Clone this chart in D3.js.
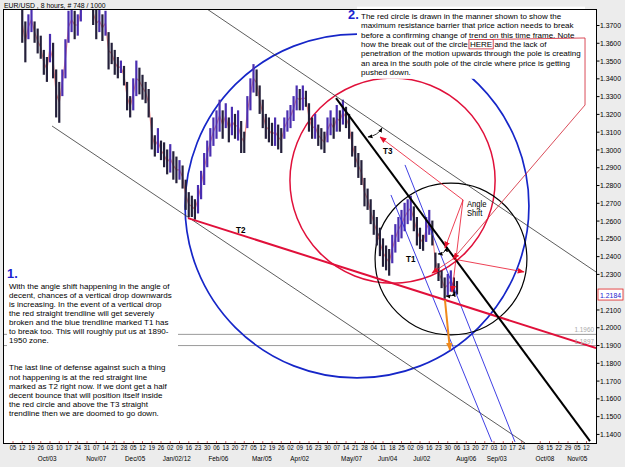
<!DOCTYPE html>
<html lang="en">
<head>
<meta charset="utf-8" />
<title>EUR/USD 8 hours</title>
<script src="https://d3js.org/d3.v7.min.js"></script>
<style>
  body { margin: 0; background: #ececec; }
  svg { font-family: "Liberation Sans", Arial, sans-serif; }
</style>
</head>
<body>
<div id="chart"></div>
<script>
// ---- data ----
// weekly tick labels (one per week, the hidden one is empty)
const weekLabels = ["05","12","19","26","03","10","17","24","31","07","14","21","28","05","12","19","26",
  "02","09","16","23","30","06","13","20","27","05","12","19","26","02","09","16","23","30","07","14","21","28",
  "04","11","18","25","02","09","16","23","30","06","13","20","27","03","10","17","24","","08","15","22","29","05","12"];
// month labels and the (fractional) week where each one is centred
const monthLabels = ["Oct/03","Nov/07","Dec/05","Jan/02/12","Feb/06","Mar/05","Apr/02","May/07","Jun/04","Jul/02","Aug/06","Sep/03","Oct/08","Nov/05"];
const monthWeeks  = [3.7, 9.0, 13.2, 17.7, 22.2, 26.9, 31.0, 36.6, 40.5, 44.2, 49.0, 52.3, 57.5, 61.0];

// price bars, three per week, starting at week 1
const priceHigh = [1.382,1.372,1.376,1.380,1.372,1.368,1.364,1.356,1.352,1.365,
  1.360,1.345,1.338,1.345,1.362,1.378,1.380,1.378,1.376,1.383,
  1.392,1.395,1.390,1.384,1.380,1.379,1.376,1.378,1.366,1.360,
  1.356,1.352,1.350,1.347,1.338,1.330,1.340,1.350,1.346,1.342,
  1.338,1.334,1.318,1.308,1.312,1.305,1.304,1.300,1.303,1.299,
  1.296,1.294,1.291,1.283,1.276,1.274,1.272,1.280,1.288,1.298,
  1.305,1.312,1.318,1.322,1.328,1.322,1.326,1.318,1.324,1.320,
  1.322,1.316,1.310,1.330,1.340,1.348,1.345,1.336,1.328,1.320,
  1.318,1.315,1.318,1.314,1.312,1.318,1.322,1.325,1.330,1.336,
  1.334,1.336,1.333,1.326,1.318,1.320,1.314,1.312,1.310,1.318,
  1.322,1.318,1.325,1.322,1.328,1.324,1.320,1.310,1.302,1.298,
  1.294,1.284,1.278,1.272,1.266,1.262,1.256,1.250,1.246,1.244,
  1.252,1.258,1.262,1.266,1.270,1.272,1.274,1.268,1.262,1.256,
  1.252,1.262,1.266,1.260,1.242,1.236,1.232,1.228,1.230,1.232,
  1.228,1.226];
const priceLow = [1.360,1.349,1.362,1.366,1.360,1.354,1.351,1.342,1.338,1.349,
  1.340,1.318,1.315,1.330,1.340,1.360,1.366,1.362,1.364,1.372,
  1.381,1.383,1.380,1.370,1.362,1.366,1.361,1.364,1.345,1.348,
  1.342,1.340,1.343,1.336,1.322,1.318,1.322,1.330,1.331,1.328,
  1.326,1.318,1.300,1.296,1.298,1.294,1.290,1.286,1.287,1.283,
  1.281,1.283,1.278,1.266,1.262,1.262,1.2605,1.264,1.272,1.280,
  1.290,1.296,1.302,1.306,1.310,1.306,1.312,1.304,1.308,1.306,
  1.305,1.298,1.298,1.312,1.322,1.332,1.330,1.320,1.312,1.306,
  1.304,1.302,1.302,1.300,1.298,1.306,1.310,1.312,1.316,1.322,
  1.322,1.322,1.324,1.310,1.306,1.306,1.302,1.300,1.298,1.304,
  1.308,1.306,1.310,1.310,1.314,1.312,1.306,1.296,1.290,1.284,
  1.280,1.268,1.266,1.258,1.252,1.246,1.240,1.234,1.232,1.229,
  1.236,1.242,1.248,1.250,1.254,1.258,1.260,1.254,1.246,1.244,
  1.243,1.248,1.252,1.246,1.232,1.226,1.222,1.216,1.218,1.220,
  1.219,1.2184];
const lastPrice = 1.2184;
const priceTicks = [1.37,1.36,1.35,1.34,1.33,1.32,1.31,1.30,1.29,1.28,1.27,1.26,1.25,1.24,1.23,
  1.21,1.20,1.19,1.18,1.17,1.16,1.15,1.14];

// horizontal levels
const levels = [1.1960, 1.1897];

// trend lines, endpoints as [week, price]
const channelUpper = [[20.97, 1.3790], [63.03, 1.2311]];
const channelLower = [[4.22, 1.3132], [55.35, 1.1349]];
const lineT2 = [[18.92, 1.2614], [63.03, 1.1883]];
const lineT3 = [[34.92, 1.3289], [62.38, 1.1360]];
const lineT1a = [[40.86, 1.2744], [51.78, 1.1355]];
const lineT1b = [[42.38, 1.2913], [54.27, 1.1355]];
const orangeArrow = [[46.70, 1.2153], [47.24, 1.1872]];

// circles: centre week, centre price, radius in price
const blueCircle = [37.19, 1.2682, 0.0967];
const redCircle = [41.03, 1.2825, 0.0577];
const blackCircle = [47.35, 1.2384, 0.0427];

// angle-shift annotation
const angleAnchor = [48.65, 1.2716];
const angleTargets = [[39.68, 1.3070], [46.70, 1.2446], [47.46, 1.2198]];
const herePath = [[61.84, 1.3627], [61.84, 1.3250], [47.57, 1.2384]];
const centreArrows = [[45.30, 1.2305], [55.24, 1.2311]];
const smallArcs = [[[38.38, 1.3070], [39.89, 1.3121]], [[45.95, 1.2412], [46.92, 1.2451]], [[46.81, 1.2176], [47.78, 1.2198]]];

const note1 = ["With the angle shift happening in the angle of",
  "decent, chances of a vertical drop downwards",
  "is increasing.  In the event of a vertical drop",
  "the red straight trendline will get severely",
  "broken and the blue trendline marked T1 has",
  "to break too.  This will roughly put us at 1890-",
  "1950 zone.", "", "",
  "The last line of defense against such a thing",
  "not happening is at the red straight line",
  "marked as T2 right now.  If we dont get a half",
  "decent bounce that will position itself inside",
  "the red circle and above the T3 straight",
  "trendline then we are doomed to go down."];
const note2 = ["The red circle is drawn in the manner shown to show the",
  "maximum resistance barrier that price action needs to break",
  "before a confirming change of trend on this time frame.  Note",
  "how the break out of the circle |HERE| and the lack of",
  "penetration of the motion upwards through the pole is creating",
  "an area in the south pole of the circle where price is getting",
  "pushed down."];

// ---- layout ----
const W = 625, H = 467;
const plot = {left: 3, top: 9, right: 596, bottom: 443};

const svg = d3.select("#chart").append("svg")
  .attr("width", W).attr("height", H);

svg.append("rect").attr("width", W).attr("height", H).attr("fill", "#ececec");
svg.append("rect")
  .attr("x", plot.left).attr("y", plot.top)
  .attr("width", plot.right - plot.left).attr("height", plot.bottom - plot.top)
  .attr("fill", "#fff");

const x = d3.scaleLinear().domain([0, 62]).range([13, 586.5]);
const y = d3.scaleLinear().domain([1.1349, 1.379]).range([plot.bottom, plot.top]);

const defs = svg.append("defs");
defs.append("clipPath").attr("id", "clip")
  .append("rect")
  .attr("x", plot.left).attr("y", plot.top)
  .attr("width", plot.right - plot.left).attr("height", plot.bottom - plot.top);

function marker(id, color, size) {
  defs.append("marker").attr("id", id)
    .attr("viewBox", "0 -5 10 10").attr("refX", 9).attr("refY", 0)
    .attr("markerWidth", size).attr("markerHeight", size)
    .attr("markerUnits", "userSpaceOnUse")
    .attr("orient", "auto-start-reverse")
    .append("path").attr("d", "M0,-4L10,0L0,4Z").attr("fill", color);
}
marker("arRed", "#e8102a", 7);
marker("arBlack", "#000", 5);
marker("arOrange", "#f08a1c", 8);

// condensed text helper (the original screenshot has narrow type)
function ctext(g, px, py, str, size, sx) {
  return g.append("text")
    .attr("transform", `translate(${px},${py}) scale(${sx},1)`)
    .attr("font-size", size)
    .text(str);
}

const g = svg.append("g").attr("clip-path", "url(#clip)");

const pt = d => [x(d[0]), y(d[1])];
const line = d3.line().x(d => x(d[0])).y(d => y(d[1]));

// horizontal levels
g.selectAll(".lvl").data(levels).join("line")
  .attr("x1", plot.left).attr("x2", plot.right)
  .attr("y1", d => y(d)).attr("y2", d => y(d))
  .attr("stroke", "#9a9a9a").attr("stroke-width", 1);

// circles
function circle(c, color, w) {
  const r = y(c[1] - c[2]) - y(c[1]);
  g.append("circle").attr("cx", x(c[0])).attr("cy", y(c[1])).attr("r", r)
    .attr("fill", "none").attr("stroke", color).attr("stroke-width", w);
}
circle(blueCircle, "#1626c8", 1.7);
circle(redCircle, "#e0103a", 1.5);
circle(blackCircle, "#000", 1.2);

// price bars
const bars = priceHigh.map((h, i) => ({w: 1 + i / 3, h: h, l: priceLow[i]}));
g.append("path")
  .datum(bars)
  .attr("d", d3.line().x(d => x(d.w)).y(d => y((d.h + d.l) / 2)))
  .attr("fill", "none").attr("stroke", "#f08a8a").attr("stroke-width", 1.2);
g.selectAll(".bar").data(bars).join("line")
  .attr("x1", d => x(d.w)).attr("x2", d => x(d.w))
  .attr("y1", d => y(d.h)).attr("y2", d => y(d.l))
  .attr("stroke", (d, i) => i > 0 && d.h + d.l >= bars[i - 1].h + bars[i - 1].l ? "#4a2eb0" : "#24203a")
  .attr("stroke-width", 2.2);

// channel and trend lines
function tline(d, color, w) {
  g.append("path").attr("d", line(d)).attr("fill", "none")
    .attr("stroke", color).attr("stroke-width", w);
}
tline(channelUpper, "#333", 0.8);
tline(channelLower, "#333", 0.8);
tline(lineT1a, "#2a2ae0", 0.9);
tline(lineT1b, "#2a2ae0", 0.9);
tline(lineT2, "#e0103a", 2);
tline(lineT3, "#000", 2);

g.append("path").attr("d", line(orangeArrow)).attr("stroke", "#f08a1c")
  .attr("stroke-width", 2).attr("marker-end", "url(#arOrange)");

// angle shift arrows
angleTargets.forEach(t => {
  g.append("path").attr("d", line([angleAnchor, t])).attr("stroke", "#e8102a")
    .attr("stroke-width", 0.8).attr("marker-end", "url(#arRed)");
});
centreArrows.forEach(t => {
  g.append("path").attr("d", line([herePath[2], t])).attr("stroke", "#e8102a")
    .attr("stroke-width", 0.8).attr("marker-end", "url(#arRed)");
});
smallArcs.forEach(a => {
  const p0 = pt(a[0]), p1 = pt(a[1]);
  g.append("path")
    .attr("d", `M${p0[0]},${p0[1]}Q${(p0[0] + p1[0]) / 2 + 3},${(p0[1] + p1[1]) / 2 + 3} ${p1[0]},${p1[1]}`)
    .attr("fill", "none").attr("stroke", "#000").attr("stroke-width", 0.8)
    .attr("marker-start", "url(#arBlack)").attr("marker-end", "url(#arBlack)");
});

// labels on the chart
ctext(g, x(lineT2[0][0]) + 48, y(lineT2[0][1]) + 15, "T2", 9, 0.9).attr("font-weight", "bold");
ctext(g, x(lineT3[0][0]) + 47, y(lineT3[0][1]) + 56, "T3", 9, 0.9).attr("font-weight", "bold");
ctext(g, x(lineT1a[0][0]) + 15, y(lineT1a[0][1]) + 67, "T1", 9, 0.9).attr("font-weight", "bold");
ctext(g, x(angleAnchor[0]) + 4, y(angleAnchor[1]) + 7, "Angle", 8.5, 0.9);
ctext(g, x(angleAnchor[0]) + 4, y(angleAnchor[1]) + 16, "Shift", 8.5, 0.9);

// level captions
levels.forEach(v => {
  ctext(g, plot.right - 2, y(v) - 2, d3.format(".4f")(v), 7.5, 0.85)
    .attr("text-anchor", "end").attr("fill", "#aaa");
});

// note 1 (left)
const n1 = svg.append("g");
const n1bg = n1.append("rect").attr("fill", "#fff");
ctext(n1, 7, 277.5, "1.", 13.5, 0.95).attr("fill", "#1a22d0").attr("font-weight", "bold");
note1.forEach((s, i) => ctext(n1, 9, 289 + i * 9.05, s, 7.8, 1.03));
const b1 = n1.node().getBBox();
n1bg.attr("x", b1.x).attr("y", b1.y).attr("width", 171).attr("height", b1.height);

// note 2 (top)
const n2 = svg.append("g");
const n2bg = n2.append("rect").attr("fill", "#fff");
ctext(n2, 348, 19, "2.", 13.5, 0.95).attr("fill", "#1a22d0").attr("font-weight", "bold");
let hereBox = null;
note2.forEach((s, i) => {
  const parts = s.split("|");
  const by = 19 + i * 9.3;
  const t = n2.append("text")
    .attr("transform", `translate(361,${by})`)
    .attr("font-size", 8);
  parts.forEach(p => t.append("tspan").text(p));
  if (parts.length > 1) {
    const start = parts[0].length, end = start + parts[1].length - 1;
    const a = t.node().getStartPositionOfChar(start).x;
    const b = t.node().getEndPositionOfChar(end).x;
    hereBox = {x0: 361 + a - 1, x1: 361 + b + 1, y0: by - 7.5, y1: by + 2};
  }
});
const b2 = n2.node().getBBox();
n2bg.attr("x", 357).attr("y", b2.y).attr("width", 228).attr("height", b2.height + 2);
svg.append("rect").attr("x", hereBox.x0).attr("y", hereBox.y0)
  .attr("width", hereBox.x1 - hereBox.x0).attr("height", hereBox.y1 - hereBox.y0)
  .attr("fill", "none").attr("stroke", "#d02030").attr("stroke-width", 0.8);
svg.append("path")
  .attr("d", `M${hereBox.x1},${hereBox.y0}` + herePath.map(d => `L${x(d[0])},${y(d[1])}`).join(""))
  .attr("fill", "none").attr("stroke", "#d02030").attr("stroke-width", 0.8)
  .attr("marker-end", "url(#arRed)");

// frame
svg.append("rect")
  .attr("x", plot.left + 0.5).attr("y", plot.top + 0.5)
  .attr("width", plot.right - plot.left).attr("height", plot.bottom - plot.top)
  .attr("fill", "none").attr("stroke", "#000");

// right axis
const ya = svg.append("g").attr("transform", `translate(${plot.right + 0.5},0)`)
  .call(d3.axisRight(y).tickValues(priceTicks).tickFormat(d3.format(".4f")).tickSize(3));
ya.select(".domain").remove();
ya.selectAll("text").attr("font-size", 8).attr("font-family", null).attr("x", 4)
  .attr("transform", "scale(0.86,1)");

// last price box
const lp = svg.append("g").attr("transform", `translate(598,${y(lastPrice)})`);
lp.append("rect").attr("x", 0).attr("y", -5.5).attr("width", 25).attr("height", 11)
  .attr("fill", "#fff").attr("stroke", "#e02020").attr("stroke-width", 0.8);
ctext(lp, 2, 3, d3.format(".4f")(lastPrice), 8, 0.86).attr("fill", "#1a22d0");

// bottom axis
const xa = svg.append("g").attr("transform", `translate(0,${plot.bottom})`);
xa.selectAll(".tk").data(weekLabels).join("line")
  .attr("x1", (d, i) => x(i)).attr("x2", (d, i) => x(i))
  .attr("y1", -2).attr("y2", 0).attr("stroke", d => d ? "#d06060" : "none");
xa.selectAll(".wl").data(weekLabels).join("text")
  .attr("transform", (d, i) => `translate(${x(i)},7) scale(0.78,1)`)
  .attr("font-size", 7.5).attr("text-anchor", "middle").text(d => d);
xa.selectAll(".ml").data(monthLabels).join("text")
  .attr("transform", (d, i) => `translate(${x(monthWeeks[i])},18) scale(0.85,1)`)
  .attr("font-size", 7.5).attr("text-anchor", "middle").text(d => d);

// title
ctext(svg, 4, 7.5, "EUR/USD , 8 hours, # 748 / 1000", 8, 0.86);
</script>
</body>
</html>
